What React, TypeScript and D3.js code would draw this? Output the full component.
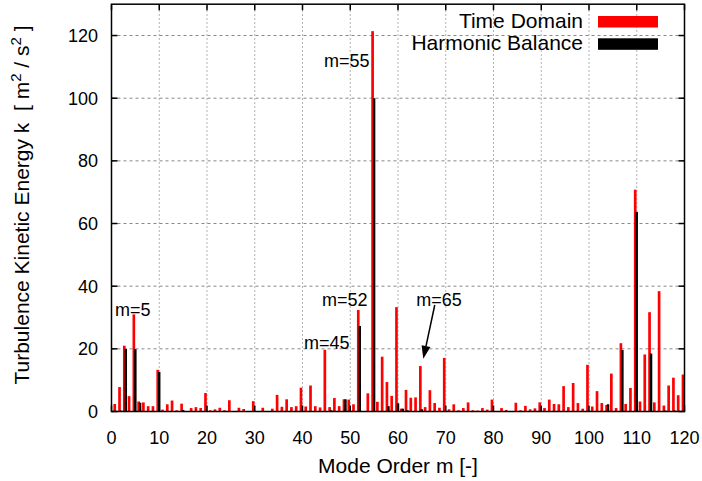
import React from "react";
import * as d3 from "d3";

// Mode orders 1..120 (index + 1)
const timeDomain: number[] = [
  2.4, 7.8, 21, 4.9, 31, 3.2, 2.9, 1.7, 1.7, 13.3,
  0.6, 2.3, 3.5, 0.4, 2.5, 0.1, 1.1, 1.4, 1.1, 5.9,
  0.4, 0.7, 1.2, 0.4, 3.6, 0.1, 1.2, 0.8, 0, 3.3,
  0, 1.2, 0, 0.9, 5.3, 1.5, 3.9, 1.4, 1.7, 7.6,
  1.6, 8.3, 1.7, 1.3, 19.7, 1.4, 4.3, 1.7, 3.9, 3.8,
  2.3, 32.4, 0, 5.8, 121.4, 3.1, 17.5, 9.4, 5.0, 33.3,
  0.9, 6.9, 4.4, 4.5, 14.5, 1.4, 6.8, 2.7, 1.2, 17.1,
  0.7, 2.3, 0.4, 1.1, 2.9, 0.4, 0.3, 1.1, 0.6, 3.8,
  0, 1.1, 0.5, 0, 2.8, 0.4, 1.8, 0.7, 1.0, 2.9,
  1.1, 3.8, 2.4, 2.3, 8.1, 1.4, 9.1, 2.7, 0.9, 14.9,
  1.6, 6.5, 2.7, 2.1, 12.1, 1.1, 21.8, 2.4, 7.5, 70.8,
  3.2, 18.2, 31.7, 2.9, 38.4, 1.9, 8.3, 10.8, 5.2, 11.8,
];

const harmonicBalance: number[] = [
  0, 0.3, 20, 0, 19.9, 2.8, 0, 0, 0, 12.6,
  0, 0, 0, 0, 0.5, 0, 0, 0, 0, 0,
  0, 0, 0, 0, 0, 0, 0, 0, 0, 0,
  0, 0, 0, 0, 0, 0, 0, 0, 0, 0,
  0, 0, 0, 0, 0, 0.4, 0, 0, 3.9, 0,
  0, 27.3, 0, 0, 100, 0, 0, 1.7, 0, 2.6,
  0.9, 0.4, 0, 0, 0.7, 0, 0, 0, 0, 0,
  0, 0, 0, 0, 0, 0, 0, 0, 0, 0,
  0, 0, 0, 0, 0, 0, 0, 0, 0, 0,
  0, 0, 0, 0, 0, 0, 0, 0, 0, 0,
  0, 0, 0, 2.3, 0, 0, 19.6, 0, 0, 63.7,
  0, 0, 18.5, 0, 0, 0.3, 0, 0.3, 0, 0,
];

const xTicks: number[] = [0, 10, 20, 30, 40, 50, 60, 70, 80, 90, 100, 110, 120];
const yTicks: number[] = [0, 20, 40, 60, 80, 100, 120];

const seriesNames: string[] = ["Time Domain", "Harmonic Balance"];
const seriesColors: string[] = ["#ff0000", "#000000"];

const annotations: { text: string; x: number; y: number }[] = [
  { text: "m=5", x: 0.73, y: 30.5 },
  { text: "m=45", x: 40.3, y: 19.95 },
  { text: "m=52", x: 44.1, y: 33.8 },
  { text: "m=55", x: 44.5, y: 110 },
  { text: "m=65", x: 63.8, y: 33.8 },
];
const arrowFrom = { x: 67.7, y: 34 };
const arrowTo = { x: 65.3, y: 16.8 };

const W = 702;
const H = 481;
const FONT = "'Liberation Sans', Arial, Helvetica, sans-serif";

export default function App() {
  const x = d3.scaleLinear().domain([0, 120]).range([111.5, 684.5]);
  const y = d3.scaleLinear().domain([0, 130]).range([411.5, 4.2]);
  const modes = timeDomain.map((_, i) => i + 1);
  const [x0, x1] = x.range();
  const [y0, y1] = y.range();
  const tick = 6;

  const ax = x(arrowFrom.x), ay = y(arrowFrom.y);
  const bx = x(arrowTo.x), by = y(arrowTo.y);
  const ang = Math.atan2(by - ay, bx - ax);
  const hl = 13, hw = 4.5;
  const baseX = bx - hl * Math.cos(ang), baseY = by - hl * Math.sin(ang);
  const head = [
    [bx, by],
    [baseX + hw * Math.sin(ang), baseY - hw * Math.cos(ang)],
    [baseX - hw * Math.sin(ang), baseY + hw * Math.cos(ang)],
  ];

  return (
    <svg
      width={W}
      height={H}
      style={{ position: "absolute", left: 0, top: 0, display: "block", background: "#fff" }}
      fontFamily={FONT}
    >
      {/* grid */}
      {yTicks.filter((t) => t > 0).map((t) => (
        <line key={"gy" + t} x1={x0} x2={x1} y1={y(t)} y2={y(t)} stroke="#888" strokeWidth={1} strokeDasharray="3,3" />
      ))}
      {xTicks.filter((t) => t > 0 && t < 120).map((t) => (
        <line key={"gx" + t} x1={x(t)} x2={x(t)} y1={y0} y2={y1} stroke="#666" strokeWidth={1} strokeDasharray="1,3" />
      ))}

      {/* bars */}
      {modes.map((m, i) => (
        <rect key={"td" + m} x={x(m - 0.6)} width={x(m - 0.04) - x(m - 0.6)} y={y(timeDomain[i])} height={y(0) - y(timeDomain[i])} fill={seriesColors[0]} />
      ))}
      {modes.map((m, i) =>
        harmonicBalance[i] > 0 ? (
          <rect key={"hb" + m} x={x(m - 0.25)} width={x(m + 0.25) - x(m - 0.25)} y={y(harmonicBalance[i])} height={y(0) - y(harmonicBalance[i])} fill={seriesColors[1]} />
        ) : null
      )}

      {/* ticks */}
      {yTicks.map((t) => (
        <g key={"ty" + t}>
          <line x1={x0} x2={x0 + tick} y1={y(t)} y2={y(t)} stroke="#000" strokeWidth={1.5} />
          <line x1={x1} x2={x1 - tick} y1={y(t)} y2={y(t)} stroke="#000" strokeWidth={1.5} />
          <text x={98} y={y(t)} dy="0.36em" textAnchor="end" fontSize={18}>{t}</text>
        </g>
      ))}
      {xTicks.map((t) => (
        <g key={"tx" + t}>
          <line x1={x(t)} x2={x(t)} y1={y0} y2={y0 - tick} stroke="#000" strokeWidth={1.5} />
          <line x1={x(t)} x2={x(t)} y1={y1} y2={y1 + tick} stroke="#000" strokeWidth={1.5} />
          <text x={x(t)} y={444} textAnchor="middle" fontSize={18}>{t}</text>
        </g>
      ))}

      {/* frame */}
      <rect x={x0} y={y1} width={x1 - x0} height={y0 - y1} fill="none" stroke="#000" strokeWidth={1.5} />

      {/* annotations */}
      {annotations.map((a) => (
        <text key={a.text} x={x(a.x)} y={y(a.y)} fontSize={18}>{a.text}</text>
      ))}
      <line x1={ax} y1={ay} x2={baseX} y2={baseY} stroke="#000" strokeWidth={1.5} />
      <polygon points={head.map((p) => p.join(",")).join(" ")} fill="#000" />

      {/* legend */}
      {seriesNames.map((n, i) => (
        <g key={n}>
          <text x={583} y={27.5 + i * 22.5} textAnchor="end" fontSize={21}>{n}</text>
          <rect x={598} y={16 + i * 22.3} width={60} height={11.5} fill={seriesColors[i]} />
        </g>
      ))}

      {/* axis titles */}
      <text x={398} y={473} textAnchor="middle" fontSize={21}>Mode Order m [-]</text>
      <text transform={`translate(29,${205}) rotate(-90)`} textAnchor="middle" fontSize={21}>
        Turbulence Kinetic Energy k{"\u00a0\u00a0"}[ m<tspan baselineShift="super" fontSize={15}>2</tspan> / s<tspan baselineShift="super" fontSize={15}>2</tspan> ]
      </text>
    </svg>
  );
}
